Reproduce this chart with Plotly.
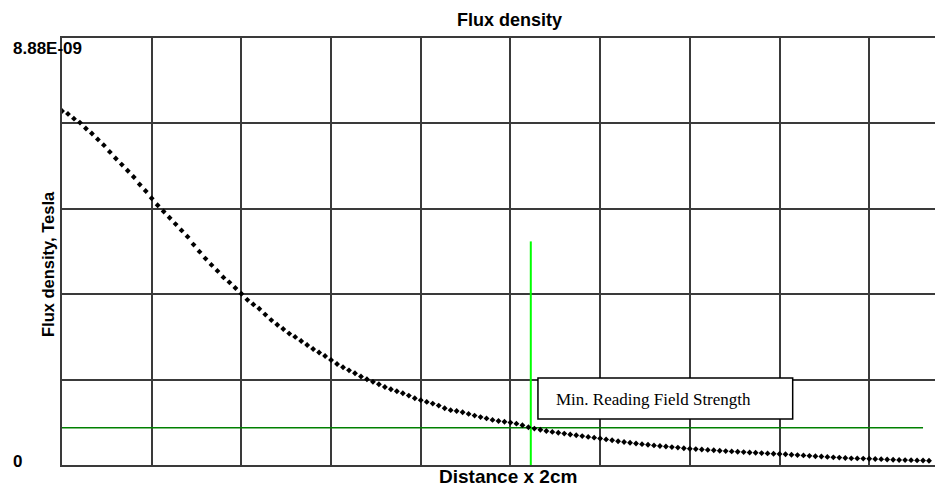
import plotly.graph_objects as go

# ---- data (flux density in units of 1e-9 T, one point per distance step) ----
distance = list(range(146))
flux_nT = [
    7.362, 7.301, 7.202, 7.121, 6.998, 6.894, 6.771, 6.651, 6.511, 6.374,
    6.247, 6.120, 5.989, 5.833, 5.698, 5.548, 5.401, 5.272, 5.141, 5.010,
    4.879, 4.748, 4.583, 4.436, 4.292, 4.161, 4.037, 3.901, 3.799, 3.681,
    3.562, 3.435, 3.340, 3.250, 3.128, 3.013, 2.916, 2.828, 2.733, 2.664,
    2.579, 2.496, 2.412, 2.340, 2.267, 2.184, 2.100, 2.032, 1.969, 1.907,
    1.840, 1.784, 1.730, 1.680, 1.622, 1.576, 1.533, 1.493, 1.443, 1.389,
    1.348, 1.312, 1.277, 1.235, 1.181, 1.140, 1.123, 1.098, 1.063, 1.027,
    0.996, 0.969, 0.938, 0.915, 0.900, 0.882, 0.859, 0.826, 0.786, 0.757,
    0.732, 0.707, 0.688, 0.670, 0.653, 0.634, 0.618, 0.601, 0.584, 0.568,
    0.551, 0.532, 0.514, 0.495, 0.478, 0.462, 0.447, 0.433, 0.420, 0.408,
    0.395, 0.385, 0.372, 0.362, 0.349, 0.339, 0.331, 0.322, 0.314, 0.306,
    0.297, 0.289, 0.283, 0.275, 0.268, 0.260, 0.254, 0.247, 0.241, 0.235,
    0.229, 0.223, 0.214, 0.206, 0.200, 0.191, 0.183, 0.177, 0.168, 0.160,
    0.154, 0.146, 0.139, 0.137, 0.133, 0.131, 0.125, 0.121, 0.114, 0.110,
    0.104, 0.102, 0.100, 0.096, 0.094, 0.089,
]
y_max = 8.88                 # top of axis, 8.88E-09 T
y_tick_labels = ["0", "8.88E-09"]
min_field = 0.776            # minimum reading field strength
min_field_end = 144.0        # extent of the threshold line
reading_x = 78.4             # distance of the reading marker
reading_top = 4.65           # height of the reading marker
box_x = [79.6, 122.2]        # label box, data coords
box_y = [0.957, 1.809]
box_text = "Min. Reading Field Strength"

W, H = 935, 491
L, R, T, B = 62, 935, 38, 465


def px(x):
    return (x - L) / (R - L)


def py(y):
    return (B - y) / (B - T)


GRID = "#3a3a3a"
SANS = "Liberation Sans, Arial, sans-serif"

fig = go.Figure()
fig.add_trace(go.Scatter(
    x=[0, min_field_end], y=[min_field, min_field], mode="lines",
    line=dict(color="#008000", width=1.5), hoverinfo="skip"))
fig.add_trace(go.Scatter(
    x=[reading_x, reading_x], y=[0, reading_top], mode="lines",
    line=dict(color="#00ff00", width=2), hoverinfo="skip"))
fig.add_trace(go.Scatter(
    x=distance, y=flux_nT, mode="markers",
    marker=dict(symbol="diamond", size=4.5, color="black"), hoverinfo="skip"))

fig.add_shape(type="rect", xref="x", yref="y",
              x0=box_x[0], x1=box_x[1], y0=box_y[0], y1=box_y[1],
              fillcolor="white", line=dict(color="black", width=1.5), layer="above")

ann = []
ann.append(dict(text=box_text, x=px(554), y=py(399), xref="paper", yref="paper",
                xanchor="left", yanchor="middle", showarrow=False,
                font=dict(family="Liberation Serif, Times New Roman, serif", size=17, color="black")))
ann.append(dict(text="<b>Flux density</b>", x=px(510), y=py(20), xref="paper", yref="paper",
                xanchor="center", yanchor="middle", showarrow=False,
                font=dict(family=SANS, size=18, color="black")))
ann.append(dict(text="<b>Distance x 2cm</b>", x=px(508), y=py(476), xref="paper", yref="paper",
                xanchor="center", yanchor="middle", showarrow=False,
                font=dict(family=SANS, size=19, color="black")))
ann.append(dict(text="<b>Flux density, Tesla</b>", x=px(48), y=py(264), xref="paper", yref="paper",
                xanchor="center", yanchor="middle", showarrow=False, textangle=-90,
                font=dict(family=SANS, size=16.5, color="black")))
ann.append(dict(text="<b>" + y_tick_labels[1] + "</b>", x=px(11), y=py(48), xref="paper", yref="paper",
                xanchor="left", yanchor="middle", showarrow=False,
                font=dict(family=SANS, size=17, color="black")))
ann.append(dict(text="<b>" + y_tick_labels[0] + "</b>", x=px(11), y=py(461), xref="paper", yref="paper",
                xanchor="left", yanchor="middle", showarrow=False,
                font=dict(family=SANS, size=17, color="black")))

fig.update_layout(
    width=W, height=H,
    margin=dict(l=L, r=W - R, t=T, b=H - B, pad=0),
    paper_bgcolor="white", plot_bgcolor="white",
    showlegend=False,
    annotations=ann,
    xaxis=dict(range=[0, 146], tick0=0, dtick=15, showgrid=True, gridcolor=GRID, gridwidth=1.5,
               showline=True, linecolor=GRID, linewidth=2, mirror=True,
               zeroline=False, showticklabels=False, ticks="", fixedrange=True),
    yaxis=dict(range=[0, y_max], tick0=0, dtick=y_max / 5, showgrid=True, gridcolor=GRID, gridwidth=1.5,
               showline=True, linecolor=GRID, linewidth=2, mirror=False,
               zeroline=False, showticklabels=False, ticks="", fixedrange=True),
)

fig.write_html("out.html", config={"displayModeBar": False},
               post_script="document.body.style.margin='0';document.body.style.overflow='hidden';")
